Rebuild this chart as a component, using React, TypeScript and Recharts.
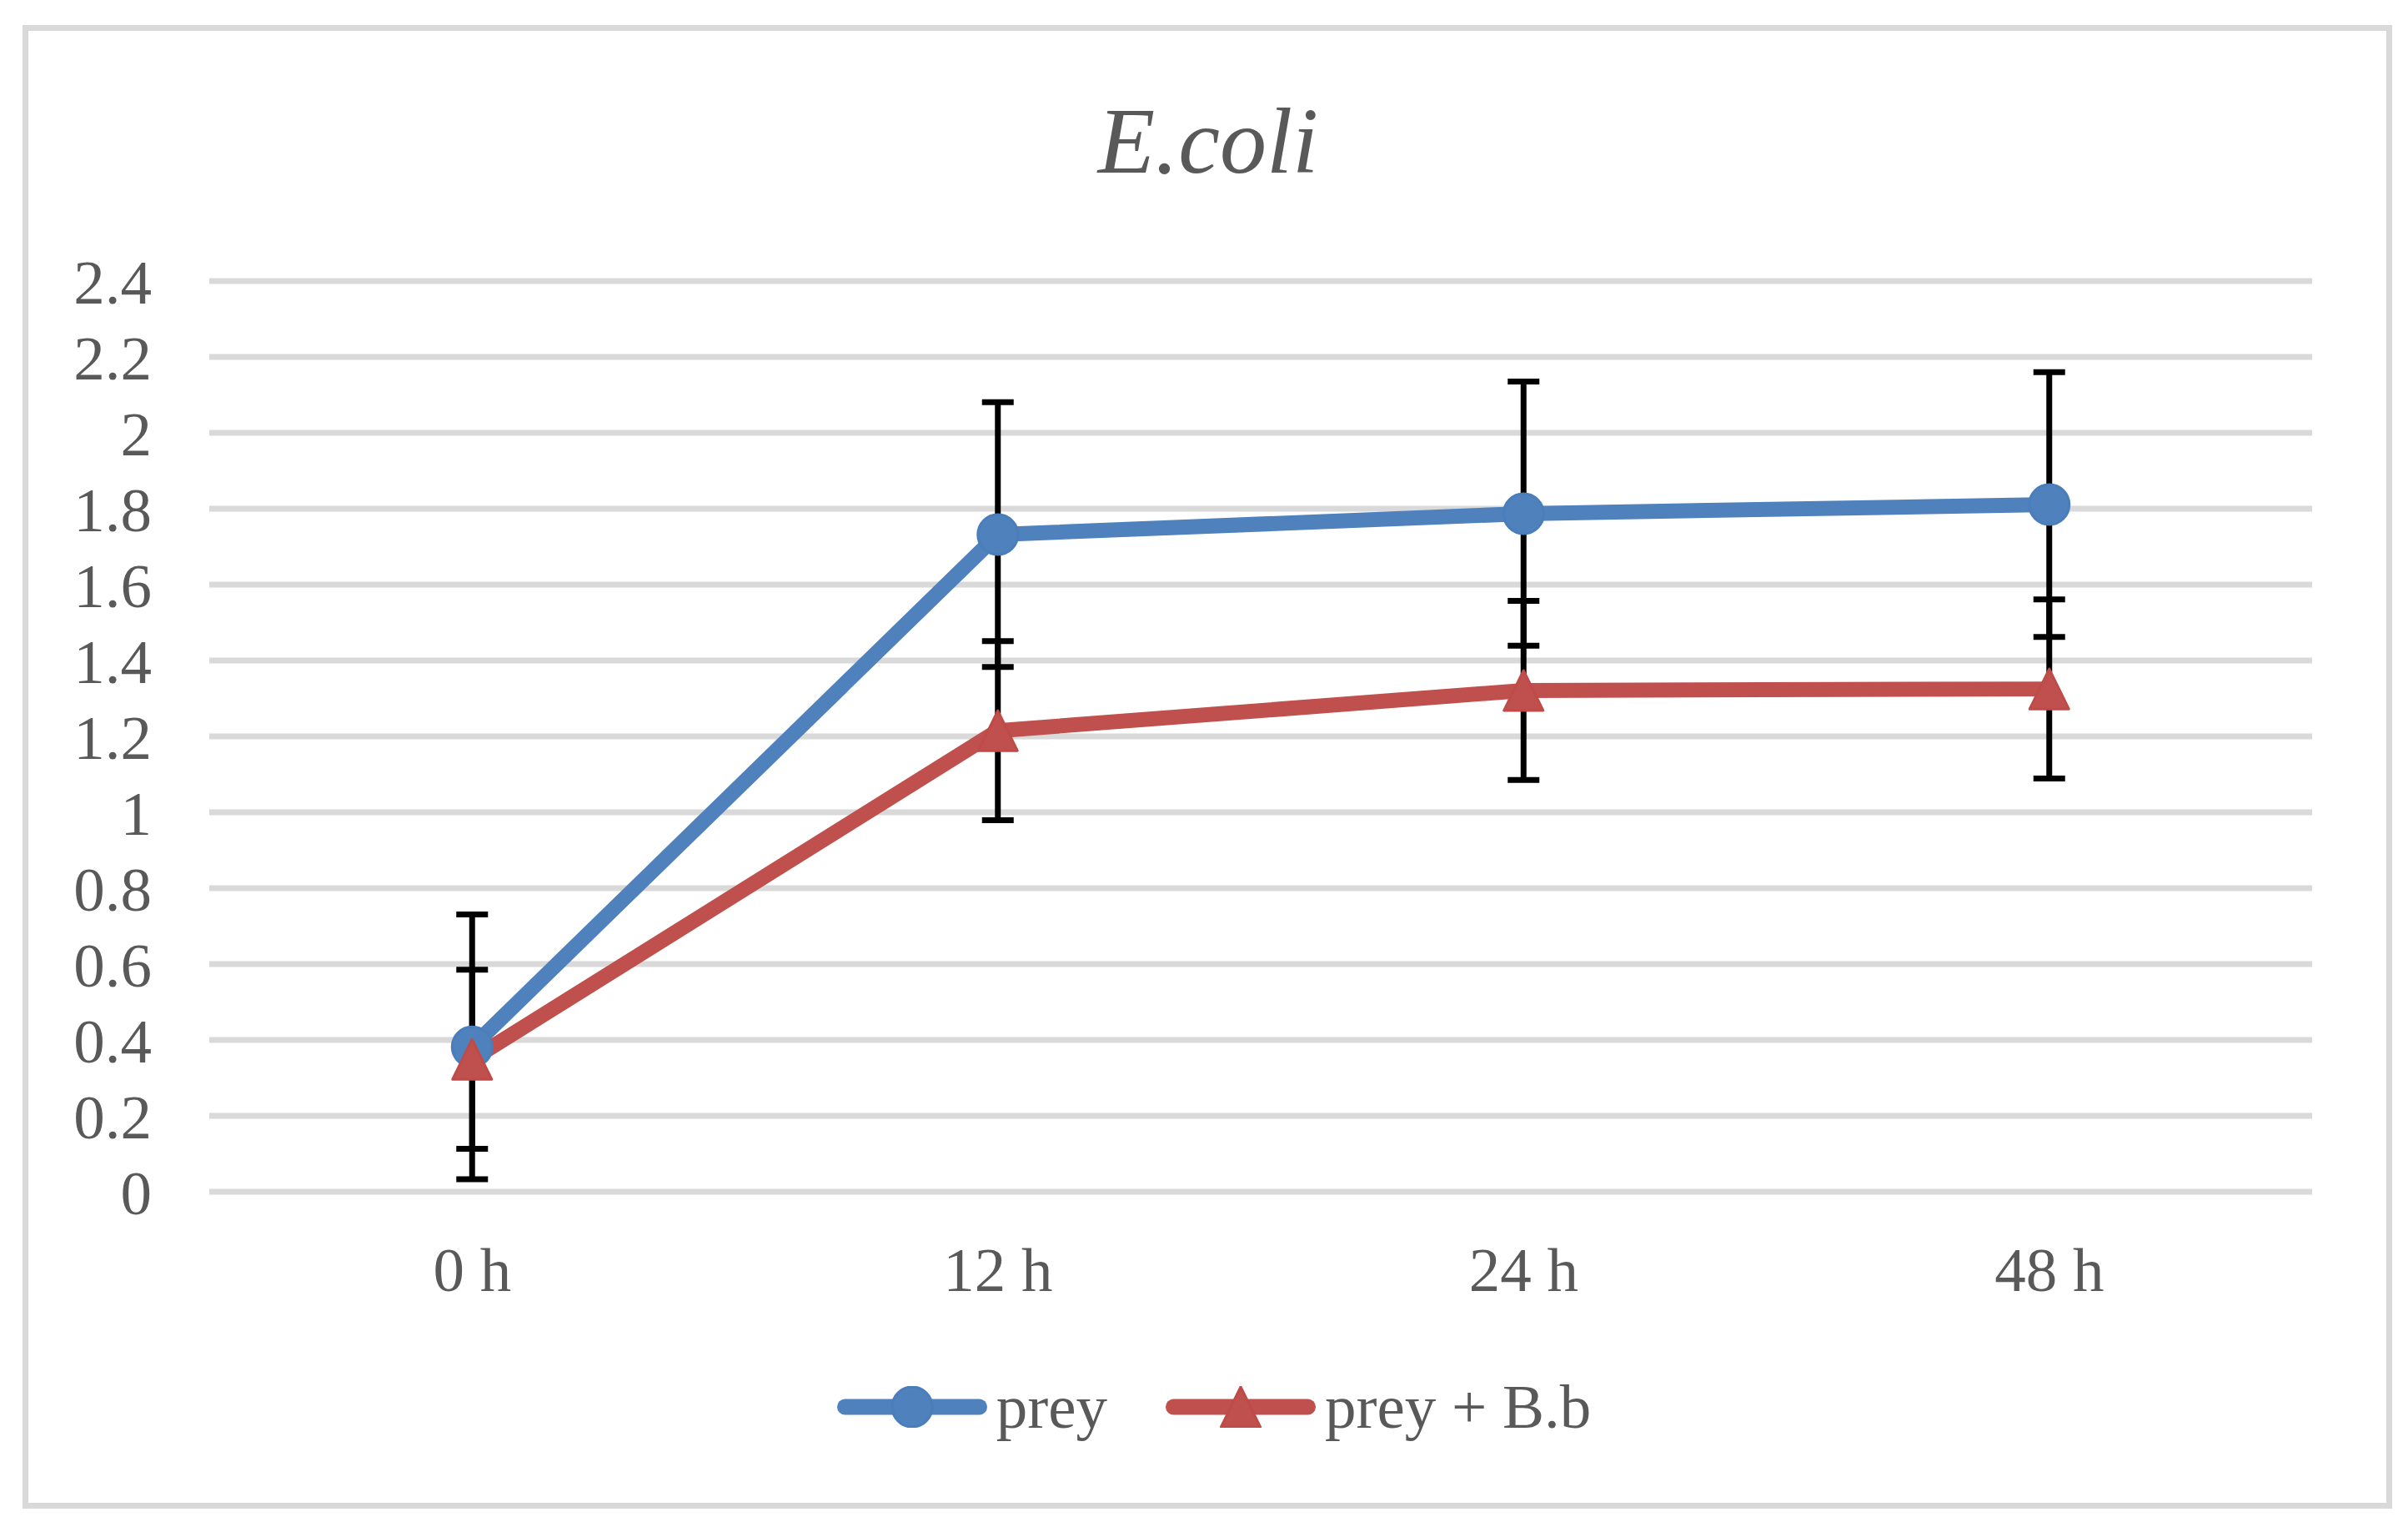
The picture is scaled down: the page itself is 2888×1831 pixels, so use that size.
import * as React from "react";
import { LineChart, Line, XAxis, YAxis, CartesianGrid, ErrorBar, Legend } from "recharts";

const TIMES = ["0 h", "12 h", "24 h", "48 h"];
const PREY = [0.382, 1.732, 1.787, 1.811];
const PREY_ERR = [0.349, 0.349, 0.348, 0.349];
const PREY_BB = [0.349, 1.215, 1.321, 1.325];
const PREY_BB_ERR = [0.236, 0.236, 0.236, 0.236];
const Y_TICKS = [0, 0.2, 0.4, 0.6, 0.8, 1, 1.2, 1.4, 1.6, 1.8, 2, 2.2, 2.4];

const BLUE = "#4F81BD";
const RED = "#C0504D";
const TEXT = "#595959";
const FONT = "'Liberation Serif', serif";

const data = TIMES.map((t, i) => ({
  time: t,
  prey: PREY[i],
  preyErr: PREY_ERR[i],
  preyBb: PREY_BB[i],
  preyBbErr: PREY_BB_ERR[i],
}));

function CircleDot(props: any) {
  const { cx, cy } = props;
  if (cx == null || cy == null) return null;
  return <circle cx={cx} cy={cy} r={24} fill={BLUE} stroke="#4A7EBB" strokeWidth={3} />;
}

function TriangleDot(props: any) {
  const { cx, cy } = props;
  if (cx == null || cy == null) return null;
  const pts = `${cx},${cy - 24} ${cx + 23.5},${cy + 24} ${cx - 23.5},${cy + 24}`;
  return <polygon points={pts} fill={RED} stroke="#BE4B48" strokeWidth={3} strokeLinejoin="round" />;
}

function LegendItem({ color, label, marker }: { color: string; label: string; marker: "circle" | "triangle" }) {
  return (
    <div style={{ display: "flex", alignItems: "center" }}>
      <svg width={180} height={50}>
        <line x1={9.5} y1={25} x2={170.5} y2={25} stroke={color} strokeWidth={19} strokeLinecap="round" />
        {marker === "circle" ? <CircleDot cx={90} cy={25} /> : <TriangleDot cx={90} cy={25} />}
      </svg>
      <span style={{ marginLeft: 11, fontSize: 75, lineHeight: "50px", color: TEXT, fontFamily: FONT }}>{label}</span>
    </div>
  );
}

function renderLegend() {
  return (
    <div style={{ display: "flex", justifyContent: "center", paddingLeft: 24, gap: 70 }}>
      <LegendItem color={BLUE} label="prey" marker="circle" />
      <LegendItem color={RED} label="prey + B.b" marker="triangle" />
    </div>
  );
}

export default function App() {
  return (
    <div style={{ position: "absolute", left: 0, top: 0, width: 2888, height: 1831, background: "#fff" }}>
      <div
        style={{
          position: "absolute",
          left: 27,
          top: 30,
          width: 2842,
          height: 1779,
          boxSizing: "border-box",
          border: "7px solid #d9d9d9",
        }}
      />
      <svg style={{ position: "absolute", left: 0, top: 0 }} width={2888} height={260}>
        <text x={1449} y={207} textAnchor="middle" fontSize={112} fontStyle="italic" fill={TEXT} fontFamily={FONT}>
          E.coli
        </text>
      </svg>
      <div style={{ position: "absolute", left: 0, top: 0 }}>
        <LineChart width={2888} height={1831} data={data} margin={{ top: 337, right: 115, bottom: 302, left: 0 }}>
          <CartesianGrid vertical={false} stroke="#d9d9d9" strokeWidth={7} />
          <XAxis
            dataKey="time"
            scale="band"
            height={100}
            interval={0}
            axisLine={false}
            tickLine={false}
            tickSize={0}
            tickMargin={66}
            tick={{ fontSize: 75, fill: TEXT, fontFamily: FONT }}
          />
          <YAxis
            width={251}
            domain={[0, 2.4]}
            ticks={Y_TICKS}
            interval={0}
            axisLine={false}
            tickLine={false}
            tickSize={0}
            tickMargin={69}
            tickFormatter={(v: number) => String(Number(v.toFixed(1)))}
            tick={{ fontSize: 75, fill: TEXT, fontFamily: FONT }}
          />
          <Line dataKey="prey" stroke="none" dot={false} activeDot={false} legendType="none" isAnimationActive={false}>
            <ErrorBar dataKey="preyErr" width={19} strokeWidth={7} stroke="#000" direction="y" />
          </Line>
          <Line dataKey="preyBb" stroke="none" dot={false} activeDot={false} legendType="none" isAnimationActive={false}>
            <ErrorBar dataKey="preyBbErr" width={19} strokeWidth={7} stroke="#000" direction="y" />
          </Line>
          <Line
            dataKey="prey"
            name="prey"
            stroke={BLUE}
            strokeWidth={18}
            strokeLinecap="round"
            strokeLinejoin="round"
            dot={<CircleDot />}
            activeDot={false}
            isAnimationActive={false}
          />
          <Line
            dataKey="preyBb"
            name="prey + B.b"
            stroke={RED}
            strokeWidth={18}
            strokeLinecap="round"
            strokeLinejoin="round"
            dot={<TriangleDot />}
            activeDot={false}
            isAnimationActive={false}
          />
          <Legend
            layout="horizontal"
            verticalAlign="middle"
            align="center"
            content={renderLegend}
            wrapperStyle={{ left: 0, top: 1662, width: 2888 }}
          />
        </LineChart>
      </div>
    </div>
  );
}
